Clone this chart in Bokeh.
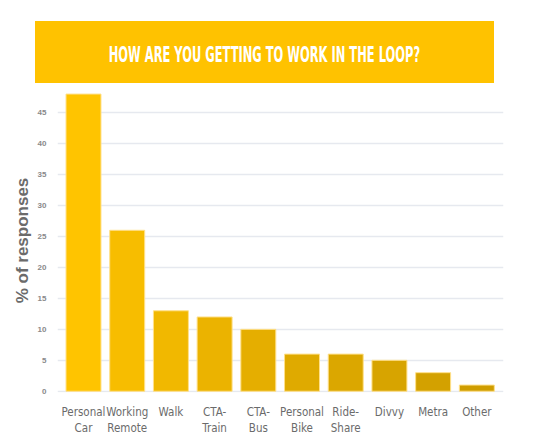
from bokeh.plotting import figure
from bokeh.layouts import column
from bokeh.models import Range1d, FixedTicker, ColumnDataSource, Div
from bokeh.embed import file_html
from bokeh.resources import INLINE

# ---- data ----
categories = ["Personal Car", "Working Remote", "Walk", "CTA-Train", "CTA-Bus",
              "Personal Bike", "Ride-Share", "Divvy", "Metra", "Other"]
tick_labels = ["Personal\nCar", "Working\nRemote", "Walk", "CTA-\nTrain", "CTA-\nBus",
               "Personal\nBike", "Ride-\nShare", "Divvy", "Metra", "Other"]
values = [48, 26, 13, 12, 10, 6, 6, 5, 3, 1]
y_ticks = [0, 5, 10, 15, 20, 25, 30, 35, 40, 45]
title_text = "HOW ARE YOU GETTING TO WORK IN THE LOOP?"

bar_colors = ["#FFC400", "#F7BD00", "#F1B800", "#EBB300", "#E5AE00",
              "#DFAA00", "#DBA700", "#D7A400", "#D3A100", "#CF9D00"]

COND_FONT = "DejaVu Sans Condensed"

# ---- header banner ----
banner = Div(
    text=('<div style="width:459px;height:62px;background:#FFC200;color:#FFFFFF;'
          'display:flex;align-items:center;justify-content:center;overflow:hidden;">'
          "<span style=\"display:inline-block;white-space:nowrap;font-family:'DejaVu Sans Condensed';"
          'font-weight:bold;font-size:22px;line-height:22px;transform:translateY(3px) scaleX(0.58);">'
          + title_text + '</span></div>'),
    width=459, height=62, margin=(21, 0, 0, 35))

# ---- main chart ----
xs = list(range(len(categories)))
src = ColumnDataSource(dict(x=xs, top=values, color=bar_colors, cat=categories))

p = figure(frame_width=446, frame_height=304, output_backend="svg", toolbar_location=None,
           x_range=Range1d(-0.595, 9.61), y_range=Range1d(-0.2, 48.9),
           min_border_left=57, min_border_right=29, min_border_top=5, min_border_bottom=30)
p.vbar(x="x", top="top", width=0.8, bottom=0, source=src,
       fill_color="color", line_color="#FFE08A", line_width=1)

p.outline_line_color = None
p.xgrid.visible = False
p.ygrid.ticker = FixedTicker(ticks=y_ticks)
p.ygrid.grid_line_color = "#E6E9EF"
p.ygrid.grid_line_width = 1.5

p.xaxis.ticker = FixedTicker(ticks=xs)
p.xaxis.major_label_overrides = {i: t for i, t in zip(xs, tick_labels)}
p.xaxis.axis_line_color = None
p.xaxis.major_tick_line_color = None
p.xaxis.minor_tick_line_color = None
p.xaxis.major_label_text_font = COND_FONT
p.xaxis.major_label_text_font_size = "11.5px"
p.xaxis.major_label_text_color = "#6B6B6B"
p.xaxis.major_label_standoff = 6

p.yaxis.ticker = FixedTicker(ticks=y_ticks)
p.yaxis.axis_line_color = None
p.yaxis.major_tick_line_color = None
p.yaxis.minor_tick_line_color = None
p.yaxis.major_label_text_font = "Liberation Sans"
p.yaxis.major_label_text_font_style = "bold"
p.yaxis.major_label_text_font_size = "8px"
p.yaxis.major_label_text_color = "#8A8A8A"
p.yaxis.major_label_standoff = 5
p.yaxis.axis_label = "% of responses"
p.yaxis.axis_label_text_font = "Liberation Sans"
p.yaxis.axis_label_text_font_style = "bold"
p.yaxis.axis_label_text_font_size = "17px"
p.yaxis.axis_label_text_color = "#6B6B6B"
p.yaxis.axis_label_standoff = 3

layout = column(banner, p, spacing=0)
open("out.html", "w").write(file_html(layout, INLINE))
